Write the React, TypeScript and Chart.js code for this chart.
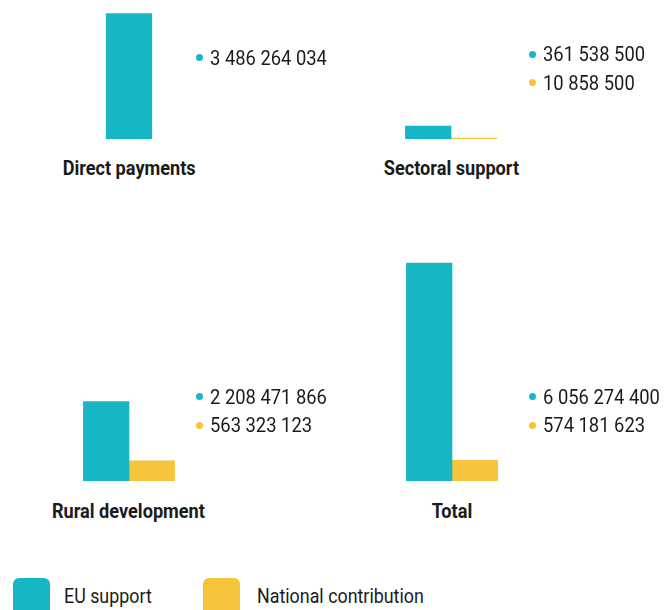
import React, { useEffect, useRef } from "react";
import { Chart, registerables } from "chart.js";

Chart.register(...registerables);

const CATEGORIES = ["Direct payments", "Sectoral support", "Rural development", "Total"];
const EU_SUPPORT: (number | null)[] = [3486264034, 361538500, 2208471866, 6056274400];
const NATIONAL: (number | null)[] = [null, 10858500, 563323123, 574181623];
const SERIES_NAMES = ["EU support", "National contribution"];

const COLORS = ["#17B6C4", "#F5C43B"];
const TEXT = "#1b1b1b";
const FONT = 'Roboto, "Liberation Sans", sans-serif';
const VALUE_SCALE = 0.875;
const CAT_SCALE = 0.885;
const LEGEND_SCALE = 0.85;

// pixels per currency unit shared by all panels
const PX_PER_UNIT = 0.036e-6;

type Panel = { cx: number; top: number; height: number; labelY: number; catY: number; textX: number; dotX: number };
const PANELS: Panel[] = [
  { cx: 129, top: 0, height: 139, labelY: 57.7, catY: 168, textX: 210, dotX: 199 },
  { cx: 451, top: 0, height: 139, labelY: 54, catY: 168, textX: 543, dotX: 532 },
  { cx: 128.5, top: 250, height: 231, labelY: 396.7, catY: 510.5, textX: 210, dotX: 199 },
  { cx: 451.5, top: 250, height: 231, labelY: 396.7, catY: 510.5, textX: 543, dotX: 532 },
];
const CANVAS_W = 200;

function fmt(n: number) {
  return Math.round(n).toString().replace(/\B(?=(\d{3})+(?!\d))/g, " ");
}

function BarPanel({ index }: { index: number }) {
  const ref = useRef<HTMLCanvasElement | null>(null);
  const p = PANELS[index];
  useEffect(() => {
    if (!ref.current) return;
    const chart = new Chart(ref.current, {
      type: "bar",
      data: {
        labels: [CATEGORIES[index]],
        datasets: [
          { label: SERIES_NAMES[0], data: [EU_SUPPORT[index]], backgroundColor: COLORS[0] },
          { label: SERIES_NAMES[1], data: [NATIONAL[index]], backgroundColor: COLORS[1] },
        ],
      },
      options: {
        responsive: false,
        animation: false,
        layout: { padding: 0 },
        datasets: {
          bar: { barThickness: 45.6, skipNull: true, borderWidth: 0, minBarLength: 1 },
        },
        plugins: { legend: { display: false }, tooltip: { enabled: false }, title: { display: false } },
        scales: {
          x: { display: false, offset: true },
          y: { display: false, min: 0, max: p.height / PX_PER_UNIT },
        },
      } as any,
    });
    return () => chart.destroy();
  }, [index]);
  return (
    <canvas
      ref={ref}
      width={CANVAS_W}
      height={p.height}
      style={{ position: "absolute", left: p.cx - CANVAS_W / 2, top: p.top, width: CANVAS_W, height: p.height }}
    />
  );
}

function Squeezed({ children, scale, origin }: { children: React.ReactNode; scale: number; origin: string }) {
  return (
    <span style={{ display: "inline-block", transform: `scaleX(${scale})`, transformOrigin: origin }}>{children}</span>
  );
}

function ValueLabels({ index }: { index: number }) {
  const p = PANELS[index];
  const vals = [EU_SUPPORT[index], NATIONAL[index]];
  const items: React.ReactNode[] = [];
  let line = 0;
  vals.forEach((v, s) => {
    if (v === null) return;
    const cy = p.labelY + line * 28.5;
    items.push(
      <div key={"d" + s} style={{ position: "absolute", left: p.dotX - 3.5, top: cy - 3.5, width: 7, height: 7, borderRadius: "50%", background: COLORS[s] }} />
    );
    items.push(
      <div key={"t" + s} style={{ position: "absolute", left: p.textX, top: cy - 14, height: 28, lineHeight: "28px", fontSize: 21, color: TEXT, whiteSpace: "nowrap" }}>
        <Squeezed scale={VALUE_SCALE} origin="left center">{fmt(v)}</Squeezed>
      </div>
    );
    line++;
  });
  return <>{items}</>;
}

export default function App() {
  useEffect(() => {
    document.body.style.margin = "0";
  }, []);
  return (
    <div style={{ position: "relative", width: 672, height: 610, overflow: "hidden", background: "#fff", fontFamily: FONT }}>
      {PANELS.map((p, i) => (
        <React.Fragment key={i}>
          <BarPanel index={i} />
          <ValueLabels index={i} />
          <div style={{ position: "absolute", left: p.cx - 150, width: 300, top: p.catY - 14, height: 28, lineHeight: "28px", textAlign: "center", fontSize: 20.5, fontWeight: "bold", color: TEXT, whiteSpace: "nowrap" }}>
            <Squeezed scale={CAT_SCALE} origin="center center">{CATEGORIES[i]}</Squeezed>
          </div>
        </React.Fragment>
      ))}
      {SERIES_NAMES.map((name, s) => (
        <React.Fragment key={name}>
          <div style={{ position: "absolute", left: s === 0 ? 13.3 : 203.3, top: 577.5, width: 37, height: 37, borderRadius: 6, background: COLORS[s] }} />
          <div style={{ position: "absolute", left: s === 0 ? 64.3 : 257.3, top: 582, height: 28, lineHeight: "28px", fontSize: 21, color: TEXT, whiteSpace: "nowrap" }}>
            <Squeezed scale={LEGEND_SCALE} origin="left center">{name}</Squeezed>
          </div>
        </React.Fragment>
      ))}
    </div>
  );
}
